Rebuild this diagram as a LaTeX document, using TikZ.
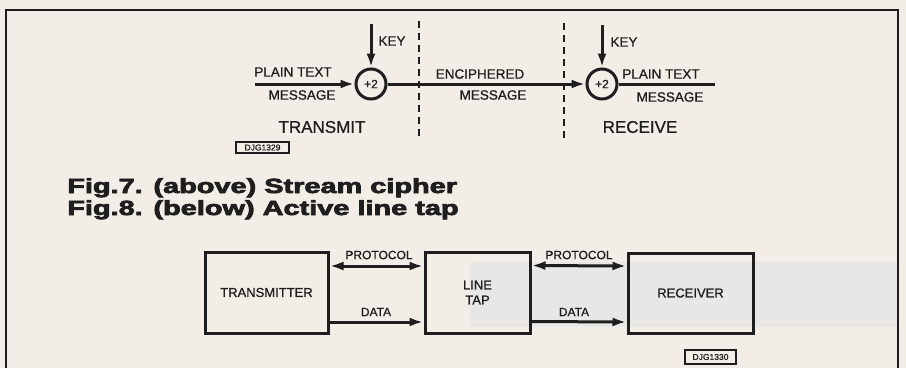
\documentclass[tikz,border=0pt]{standalone}
\usepackage{fontspec}
\setmainfont{Liberation Sans}
\newfontfamily\lblfont{Liberation Sans}[FakeBold=0.8]
\newfontfamily\capfont{Liberation Sans Bold}[FakeBold=3]
\usetikzlibrary{arrows.meta,calc}
\definecolor{paper}{HTML}{F3EDE8}
\definecolor{band}{HTML}{E9E7E5}
\definecolor{ink}{HTML}{1E1E1E}
\begin{document}
\begin{tikzpicture}[x=1pt,y=-1pt,
  inkline/.style={draw=ink,line width=3pt},
  frameline/.style={draw=ink,line width=2.2pt},
  lbl/.style={text=ink,inner sep=0pt,font=\lblfont\fontsize{12}{12}\selectfont},
  lbltop/.style={text=ink,inner sep=0pt,font=\lblfont\fontsize{13.5}{13.5}\selectfont},
  big/.style={text=ink,inner sep=0pt,font=\lblfont\fontsize{17}{17}\selectfont},
  xor/.style={circle,draw=ink,line width=3pt,minimum size=30pt,inner sep=0pt,text=ink,font=\lblfont\fontsize{12}{12}\selectfont},
  blk/.style={rectangle,draw=ink,line width=3pt,inner sep=0pt,text=ink,font=\lblfont\fontsize{13}{15}\selectfont,align=center},
  tag/.style={rectangle,draw=ink,line width=1.2pt,inner sep=1.5pt,text=ink,font=\lblfont\fontsize{8.5}{8.5}\selectfont},
  arr/.style={inkline,-{Latex[length=14pt,width=9pt]}},
  darr/.style={inkline,{Latex[length=14pt,width=9pt]}-{Latex[length=14pt,width=9pt]}},
  captxt/.style={text=ink,inner sep=0pt,anchor=base west,xscale=1.41,font=\capfont\fontsize{20.5}{20.5}\selectfont}]
\fill[paper] (0,0) rectangle (906,368);
\useasboundingbox (0,0) rectangle (906,368);
\fill[band] (470,262) rectangle (897,327);
% frame
\draw[frameline] (6,368) -- (6,10) -- (898,10) -- (898,368);
% Fig 7
\node[xor] (c1) at (371,84) {+2};
\node[xor] (c2) at (602,84) {+2};
\coordinate (in) at (255,84);
\coordinate (out) at (715,84);
\coordinate (k1) at (371,24);
\coordinate (k2) at (602,25);
\draw[arr] (in) -- (c1);
\draw[arr] (c1) -- (c2);
\draw[inkline] (c2) -- (out);
\draw[arr] (k1) -- (c1);
\draw[arr] (k2) -- (c2);
\coordinate (d1a) at (419,21); \coordinate (d1b) at (419,140);
\coordinate (d2a) at (564,23); \coordinate (d2b) at (564,140);
\draw[draw=ink,line width=1.5pt,dash pattern=on 7pt off 5pt] (d1a) -- (d1b);
\draw[draw=ink,line width=1.5pt,dash pattern=on 7pt off 5pt] (d2a) -- (d2b);
\node[lbltop] (key1) at (392,41) {KEY};
\node[lbltop] (key2) at (624,42) {KEY};
\node[lbltop] (pt1) at (293,72) {PLAIN TEXT};
\node[lbltop] (m1) at (302,95) {MESSAGE};
\node[lbltop] (enc) at (480,74) {ENCIPHERED};
\node[lbltop] (m2) at (493,95) {MESSAGE};
\node[lbltop] (pt2) at (661,74) {PLAIN TEXT};
\node[lbltop] (m3) at (670,97) {MESSAGE};
\node[big] (tx) at (322,127) {TRANSMIT};
\node[big] (rx) at (640,127) {RECEIVE};
\node[tag,minimum width=53pt,minimum height=11pt] (t1) at (262.5,147.5) {DJG1329};
% captions
\node[captxt] (cap1) at (67,193) {Fig.7. (above) Stream cipher};
\node[captxt] (cap2) at (67,215) {Fig.8. (below) Active line tap};
% Fig 8
\node[blk,minimum width=123pt,minimum height=81pt] (TX) at (266.5,292.5) {TRANSMITTER};
\node[blk,minimum width=105pt,minimum height=81pt] (LT) at (477.5,292.5) {LINE\\TAP};
\node[blk,minimum width=125pt,minimum height=80pt] (RX) at (690.5,293) {RECEIVER};
\draw[darr] ([yshift=26.5pt]TX.east) -- ([yshift=26.5pt]LT.west);
\draw[arr] ([yshift=-29.5pt]TX.east) -- ([yshift=-29.5pt]LT.west);
\draw[darr] ([yshift=27pt]LT.east) -- ([yshift=27pt]RX.west);
\draw[arr] ([yshift=-29pt]LT.east) -- ([yshift=-29pt]RX.west);
\node[lbl] (p1) at (379,255) {PROTOCOL};
\node[lbl] (p2) at (579,255) {PROTOCOL};
\node[lbl] (da1) at (376,312) {DATA};
\node[lbl] (da2) at (574,312) {DATA};
\node[tag,minimum width=51pt,minimum height=14pt] (t2) at (710.5,357) {DJG1330};
\end{tikzpicture}
\end{document}
